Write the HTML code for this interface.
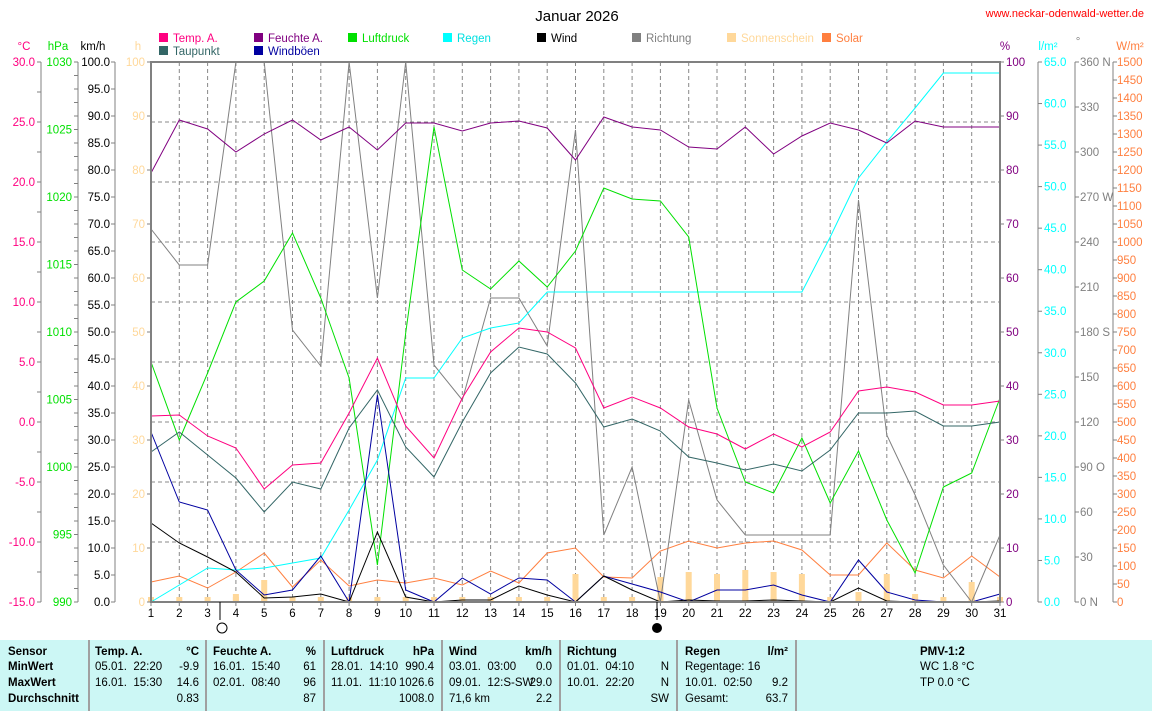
<!DOCTYPE html>
<html><head><meta charset="utf-8">
<style>
body{margin:0;background:#fff;width:1152px;height:711px;overflow:hidden;font-family:"Liberation Sans",sans-serif;}
svg{position:absolute;left:0;top:0}
.tb{position:absolute;top:640px;left:0;width:1152px;height:71px;background:#ccf7f5;font-size:11.5px}
.tb div{position:absolute;white-space:nowrap}
.sep{position:absolute;top:0;width:2px;height:71px;background:#a0a0a0}
b{font-weight:bold}
</style></head><body>
<svg id="s" width="1152" height="711" font-family="Liberation Sans, sans-serif" font-size="11.5"></svg>
<div class="tb">
<div class="sep" style="left:88px"></div><div class="sep" style="left:205px"></div><div class="sep" style="left:323px"></div><div class="sep" style="left:441px"></div><div class="sep" style="left:559px"></div><div class="sep" style="left:676px"></div><div class="sep" style="left:795px"></div>
<div style="left:8px;top:6px"><b>Sensor</b></div><div style="left:8px;top:21px"><b>MinWert</b></div><div style="left:8px;top:37px"><b>MaxWert</b></div><div style="left:8px;top:53px"><b>Durchschnitt</b></div>
<div style="left:95px;top:6px"><b>Temp. A.</b></div><div style="right:953px;top:6px"><b>°C</b></div>
<div style="left:95px;top:21px">05.01.&nbsp; 22:20</div><div style="right:953px;top:21px">-9.9</div>
<div style="left:95px;top:37px">16.01.&nbsp; 15:30</div><div style="right:953px;top:37px">14.6</div>
<div style="right:953px;top:53px">0.83</div>
<div style="left:213px;top:6px"><b>Feuchte A.</b></div><div style="right:836px;top:6px"><b>%</b></div>
<div style="left:213px;top:21px">16.01.&nbsp; 15:40</div><div style="right:836px;top:21px">61</div>
<div style="left:213px;top:37px">02.01.&nbsp; 08:40</div><div style="right:836px;top:37px">96</div>
<div style="right:836px;top:53px">87</div>
<div style="left:331px;top:6px"><b>Luftdruck</b></div><div style="right:718px;top:6px"><b>hPa</b></div>
<div style="left:331px;top:21px">28.01.&nbsp; 14:10</div><div style="right:718px;top:21px">990.4</div>
<div style="left:331px;top:37px">11.01.&nbsp; 11:10</div><div style="right:718px;top:37px">1026.6</div>
<div style="right:718px;top:53px">1008.0</div>
<div style="left:449px;top:6px"><b>Wind</b></div><div style="right:600px;top:6px"><b>km/h</b></div>
<div style="left:449px;top:21px">03.01.&nbsp; 03:00</div><div style="right:600px;top:21px">0.0</div>
<div style="left:449px;top:37px">09.01.&nbsp; 12:S-SW</div><div style="right:600px;top:37px">29.0</div>
<div style="left:449px;top:53px">71,6 km</div><div style="right:600px;top:53px">2.2</div>
<div style="left:567px;top:6px"><b>Richtung</b></div>
<div style="left:567px;top:21px">01.01.&nbsp; 04:10</div><div style="right:483px;top:21px">N</div>
<div style="left:567px;top:37px">10.01.&nbsp; 22:20</div><div style="right:483px;top:37px">N</div>
<div style="right:483px;top:53px">SW</div>
<div style="left:685px;top:6px"><b>Regen</b></div><div style="right:364px;top:6px"><b>l/m²</b></div>
<div style="left:685px;top:21px">Regentage: 16</div>
<div style="left:685px;top:37px">10.01.&nbsp; 02:50</div><div style="right:364px;top:37px">9.2</div>
<div style="left:685px;top:53px">Gesamt:</div><div style="right:364px;top:53px">63.7</div>
<div style="left:920px;top:6px"><b>PMV-1:2</b></div>
<div style="left:920px;top:21px">WC 1.8 °C</div>
<div style="left:920px;top:37px">TP 0.0 °C</div>
</div>
<script>
var s=document.getElementById('s'),h='';
function X(d){return 151+(d-1)*28.3;}
var T=62,B=602;
function t(x,y,txt,c,a,extra){h+='<text x="'+x+'" y="'+y+'" fill="'+c+'" text-anchor="'+(a||'start')+'" '+(extra||'')+'>'+txt+'</text>';}
function l(x1,y1,x2,y2,c,w,d){h+='<line x1="'+x1+'" y1="'+y1+'" x2="'+x2+'" y2="'+y2+'" stroke="'+c+'" stroke-width="'+(w||1)+'"'+(d?' stroke-dasharray="'+d+'"':'')+'/>';}
for(var i=1;i<=30;i++){l(X(i),T,X(i),B,'#888',1,'4,3');}
for(var y=122;y<B;y+=60){l(151,y,1000,y,'#888',1,'4,3');}
var sun={4:8,5:22,16:28,19:25,20:30,21:28,22:32,23:30,24:28,26:10,27:28,28:8,30:20};
for(var d in sun){h+='<rect x="'+(X(+d)-3)+'" y="'+(B-sun[d])+'" width="6" height="'+sun[d]+'" fill="#ffd89a"/>';}
for(var i=1;i<=31;i++){h+='<rect x="'+(X(i)-3)+'" y="597" width="6" height="5" fill="#ffd89a"/>';}
function P(a,c){var p='';for(var i=0;i<a.length;i++)p+=X(i+1)+','+a[i]+' ';h+='<polyline points="'+p+'" fill="none" stroke="'+c+'" stroke-width="1"/>';}
P([582,576,588,572,553,587,560,586,580,583,578,585,571,583,553,548,577,578,551,541,548,543,541,550,575,575,543,570,578,556,577],'#ff7f3f');
P([229,265,265,62,62,330,366,62,298,62,365,400,298,298,346,130,535,467,602,400,500,535,535,535,535,200,435,495,565,602,535],'#808080');
P([602,585,568,570,568,563,558,510,460,378,378,338,328,323,292,292,292,292,292,292,292,292,292,292,237,178,142,108,73,73,73],'#00ffff');
P([362,440,373,302,281,233,298,378,565,333,127,270,289,261,287,251,188,199,201,237,408,482,493,438,503,451,520,573,487,473,398],'#00e000');
P([173,120,129,152,134,120,140,127,150,123,123,131,123,121,128,160,117,127,130,147,149,127,154,136,123,130,143,121,127,127,127],'#800080');
P([452,432,455,478,512,482,489,428,390,447,477,422,373,347,354,383,427,419,431,457,463,470,464,471,450,413,413,411,426,426,422],'#336666');
P([416,415,436,448,489,465,463,413,358,426,458,398,352,328,332,348,408,397,408,427,434,449,434,447,432,391,387,392,405,405,401],'#ff0080');
P([432,502,510,570,595,590,556,602,395,590,602,578,594,578,580,602,576,584,592,602,590,590,585,595,602,560,592,600,602,602,594],'#0000a0');
P([523,543,557,572,598,597,594,602,532,597,602,600,600,586,595,602,576,590,602,600,601,601,600,601,602,588,601,602,602,602,601],'#000');
h+='<rect x="151" y="62" width="849" height="540" fill="none" stroke="#808080" stroke-width="2"/>';
for(var i=1;i<=31;i++){l(X(i),B,X(i),B+4,'#808080');t(X(i),617,i,'#000','middle');}
l(220,602,220,620,'#000');l(657,602,657,620,'#000');
h+='<circle cx="222" cy="628" r="5" fill="none" stroke="#000"/><circle cx="657" cy="628" r="5" fill="#000"/>';
function ax(x,min,max,step,col,fmt,lx){l(x,T,x,B,'#808080');for(var v=min;v<=max+1e-9;v+=step){var y=B-(v-min)/(max-min)*540;l(x-4,y,x,y,'#808080');if(fmt)t(lx,y+4,fmt(v),col,'end');}}
ax(41,-15,30,2.5,'#ff0080',null);ax(41,-15,30,5,'#ff0080',function(v){return v.toFixed(1)},35);
ax(78,990,1030,1,'#00e000',null);ax(78,990,1030,5,'#00e000',function(v){return v},72);
ax(115,0,100,5,'#000',function(v){return v.toFixed(1)},110);
ax(151,0,100,10,'#ffd89a',function(v){return v},145);
t(24,50,'°C','#ff0080','middle');t(58,50,'hPa','#00e000','middle');t(93,50,'km/h','#000','middle');t(138,50,'h','#ffd89a','middle');
function rx(x,min,max,step,col,fmt,lx){l(x,T,x,B,'#808080');for(var v=min;v<=max+1e-9;v+=step){var y=B-(v-min)/(max-min)*540;l(x,y,x+4,y,'#808080');if(fmt)t(lx,y+4,fmt(v),col,'start');}}
rx(1000,0,100,10,'#800080',function(v){return v},1006);
rx(1038,0,65,5,'#00ffff',function(v){return v.toFixed(1)},1044);
rx(1075,0,360,30,'#808080',function(v){return v+({0:' N',90:' O',180:' S',270:' W',360:' N'}[v]||'')},1080);
rx(1113,0,1500,50,'#ff7f3f',function(v){return v},1117);
t(1005,50,'%','#800080','middle');t(1048,50,'l/m²','#00ffff','middle');t(1078,45,'°','#808080','middle');t(1130,50,'W/m²','#ff7f3f','middle');
t(577,21,'Januar 2026','#000','middle','font-size="15"');
t(1144,17,'www.neckar-odenwald-wetter.de','#ff0000','end','font-size="11"');
var lg=[[163,38,'Temp. A.','#ff0080'],[258,38,'Feuchte A.','#800080'],[352,38,'Luftdruck','#00e000'],[447,38,'Regen','#00ffff'],[541,38,'Wind','#000'],[636,38,'Richtung','#808080'],[731,38,'Sonnenschein','#ffd89a'],[826,38,'Solar','#ff7f3f'],[163,51,'Taupunkt','#336666'],[258,51,'Windböen','#0000a0']];
lg.forEach(function(g){h+='<rect x="'+(g[0]-4)+'" y="'+(g[1]-5)+'" width="9" height="9" fill="'+g[3]+'"/>';t(g[0]+10,g[1]+4,g[2],g[3]=='#ffd89a'?'#ffd89a':(g[3]=='#00ffff'?'#00e0e0':g[3]));});
s.innerHTML=h;
</script>
</body></html>
